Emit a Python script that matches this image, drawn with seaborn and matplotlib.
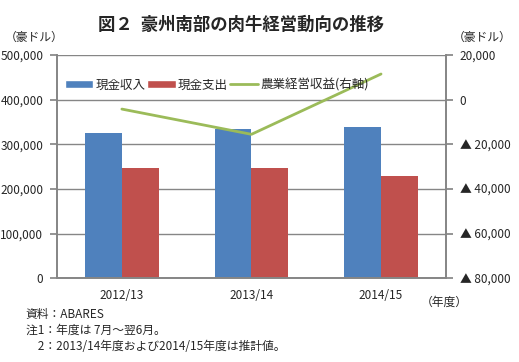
import pandas as pd
import matplotlib.pyplot as plt
import seaborn as sns
from matplotlib.patches import Patch
from matplotlib.lines import Line2D
from matplotlib.ticker import FuncFormatter

# data
years = ["2012/13", "2013/14", "2014/15"]
cash_income = [325000, 334000, 339000]
cash_cost = [247000, 247000, 229000]
farm_profit = [-4200, -15500, 11500]
series_names = ["現金収入", "現金支出", "農業経営収益(右軸)"]

BLUE = "#4F81BD"
RED = "#C0504D"
GREEN = "#9BBB59"
GRID = "#868686"

sns.set_theme(style="white")
plt.rcParams["font.family"] = ["Noto Sans CJK JP", "DejaVu Sans"]

df = pd.DataFrame({
    "year": years * 2,
    "value": cash_income + cash_cost,
    "series": [series_names[0]] * 3 + [series_names[1]] * 3,
})

fig = plt.figure(figsize=(5.19, 3.62), dpi=100)
ax = fig.add_axes([0.110, 0.231, 0.749, 0.617])

sns.barplot(data=df, x="year", y="value", hue="series", palette=[BLUE, RED],
            width=0.57, saturation=1, linewidth=0, ax=ax, legend=False)
ax.set_ylim(0, 500000)
ax.set_yticks(range(0, 500001, 100000))
ax.yaxis.set_major_formatter(FuncFormatter(lambda v, p: f"{int(v):,}"))
ax.grid(axis="y", color=GRID, linewidth=1)
ax.set_axisbelow(True)
ax.set_xlabel("")
ax.set_ylabel("")
ax.set_xlim(-0.5, 2.5)
ax.set_xticks([0, 1, 2])
ax.set_xticks([-0.5, 0.5, 1.5, 2.5], minor=True)
ax.tick_params(axis="x", which="major", length=0, labelsize=8.5, pad=8)
ax.tick_params(axis="x", which="minor", length=4, color=GRID, direction="out")
ax.tick_params(axis="y", length=5, color=GRID, labelsize=8.5, pad=5, left=True)
for s in ["left", "bottom", "right"]:
    ax.spines[s].set_color(GRID)
ax.spines["top"].set_visible(False)

ax2 = ax.twinx()
sns.pointplot(x=years, y=farm_profit, color=GREEN, markers="", linestyles="-",
              ax=ax2, linewidth=2)
ax2.set_ylim(-80000, 20000)
ax2.set_yticks(range(-80000, 20001, 20000))


def right_fmt(v, p):
    if v < 0:
        return f"▲ {int(-v):,}"
    return f"{int(v):,}"


ax2.yaxis.set_major_formatter(FuncFormatter(right_fmt))
ax2.tick_params(axis="y", length=5, color=GRID, labelsize=8.5, pad=5, right=True)
ax2.set_xlim(-0.5, 2.5)
for s in ["left", "bottom", "right"]:
    ax2.spines[s].set_color(GRID)
ax2.spines["top"].set_visible(False)
ax2.set_ylabel("")
ax2.grid(False)

handles = [Patch(facecolor=BLUE), Patch(facecolor=RED),
           Line2D([], [], color=GREEN, linewidth=2)]
ax2.legend(handles, series_names, loc="center left", bbox_to_anchor=(0.0, 0.866),
           ncol=3, frameon=False, fontsize=9, handlelength=2.3,
           handleheight=0.55, handletextpad=0.15, columnspacing=0.15,
           borderaxespad=0.2)

fig.text(0.464, 0.93, "図２  豪州南部の肉牛経営動向の推移", ha="center", va="center",
         fontsize=12.5, fontweight="bold")
fig.text(0.01, 0.898, "（豪ドル）", ha="left", va="center", fontsize=8.5)
fig.text(0.873, 0.898, "（豪ドル）", ha="left", va="center", fontsize=8.5)
fig.text(0.81, 0.166, "（年度）", ha="left", va="center", fontsize=8.5)
fig.text(0.05, 0.132, "資料：ABARES", ha="left", va="center", fontsize=8.5)
fig.text(0.05, 0.088, "注1：年度は 7月～翌6月。", ha="left", va="center", fontsize=8.5)
fig.text(0.05, 0.044, "　2：2013/14年度および2014/15年度は推計値。", ha="left",
         va="center", fontsize=8.5)

fig.savefig("out.png", dpi=100)
